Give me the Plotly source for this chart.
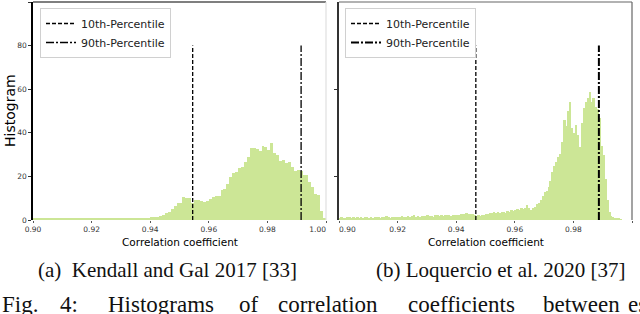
import numpy as np
import plotly.graph_objects as go

# ---------------- data ----------------
LEFT_BIN_START = 0.90
LEFT_BIN_WIDTH = 0.001
left_counts = [
    0.6, 0.7, 0.5, 0.8, 0.6, 0.5, 0.7, 0.9, 0.6, 0.5,
    0.5, 0.7, 0.6, 0.8, 0.5, 0.6, 0.7, 0.5, 0.6, 0.8,
    0.6, 0.5, 0.7, 0.6, 0.5, 0.6, 0.8, 0.6, 0.7, 0.5,
    0.6, 0.7, 0.8, 0.6, 0.7, 0.9, 0.7, 0.8, 0.9,
    1.1, 1.2, 1.3, 1.5, 2.0, 2.4, 3.0, 3.8, 5.0, 6.5,
    7.6, 8.0, 10.4, 10.0, 10.2, 7.6, 9.2, 9.0, 8.9, 8.4,
    8.6, 9.5, 10.7, 10.9, 11.2, 13.8, 14.2, 16.5, 19.9, 21.4,
    22.2, 24.0, 24.5, 26.8, 28.7, 32.9, 33.2, 32.4, 31.8, 34.0,
    33.5, 32.1, 35.5, 30.6, 30.0, 27.2, 27.5, 26.3, 26.8, 24.5,
    22.6, 22.8, 22.4, 20.6, 20.8, 17.6, 15.0, 11.9, 11.5, 4.3,
    0.8,
]
left_p10 = 0.9545
left_p90 = 0.9915

RIGHT_BIN_START = 0.90
RIGHT_BIN_WIDTH = 0.1 / 150
right_counts = [
    1.0, 1.2, 1.1, 0.9, 1.3, 1.2, 1.0, 1.4, 1.1, 1.2,
    1.0, 1.3, 0.9, 1.5, 1.2, 1.1, 1.6, 1.0, 1.3, 1.2,
    1.4, 1.1, 1.5, 1.2, 1.8, 1.3, 1.1, 1.4, 1.6, 1.2,
    1.5, 1.3, 1.7, 1.6, 1.4, 1.9, 1.5, 1.7, 2.3, 1.6,
    1.8, 1.5, 2.0, 1.7, 1.9, 2.4, 1.8, 2.0, 1.6, 2.1,
    2.2, 1.9, 2.3, 2.0, 2.1, 2.5, 2.2, 1.9, 2.4, 2.3,
    2.5, 2.2, 2.6, 2.8, 2.7, 3.0, 2.8, 2.6, 2.9, 2.4,
    2.0, 2.3, 1.9, 2.5, 2.2, 2.8, 2.6, 3.2, 3.0, 3.5,
    3.2, 3.8, 3.4, 3.9, 3.6, 3.3, 4.0, 3.7, 4.5, 4.2,
    4.8, 5.0, 4.4, 5.3, 4.9, 5.6, 6.9,
    5.5, 4.8, 5.6, 6.1, 7.2, 8.0, 9.2, 11.0, 13.0, 13.5,
    15.0, 18.0, 22.0, 25.0, 26.5, 29.0, 30.5, 36.0, 46.0, 43.0,
    50.0, 54.3, 42.0, 39.7, 43.6, 39.0, 33.6, 44.3, 51.2, 54.0,
    55.8, 58.9, 54.3, 55.8, 52.0, 51.0, 47.0, 34.0, 30.0, 19.0,
    9.0, 3.9, 2.0, 1.5, 0.8, 0.8, 0.5, 0.3, 0.0, 0.0,
    0.0, 0.0, 0.0,
]
right_p10 = 0.9467
right_p90 = 0.9887

x_ticks = [0.90, 0.92, 0.94, 0.96, 0.98, 1.00]
x_tick_labels = ["0.90", "0.92", "0.94", "0.96", "0.98", "1.00"]
y_ticks_left = [0, 20, 40, 60, 80, 100]
y_tick_labels_left = ["0", "20", "40", "60", "80", "100"]
y_ticks_right = [20, 60]
line_top = 80

legend_labels = ["10th-Percentile", "90th-Percentile"]
x_title = "Correlation coefficient"
y_title = "Histogram"
captions = ["(a)  Kendall and Gal 2017 [33]", "(b) Loquercio et al. 2020 [37]"]
fig_caption_words = ["Fig.", "4:", "Histograms", "of", "correlation",
                     "coefficients", "between", "esti"]

# ---------------- figure ----------------
W, H = 640, 314
BAR_COLOR = "rgb(204,230,150)"
FONT = "DejaVu Sans"
SERIF = "Liberation Serif"
NB = "\u00a0"

def px_x(p):
    return p / W

def px_y(p):
    return (H - p) / H

fig = go.Figure()

def add_panel(counts, start, width, p10, p90, xa, ya, legend, dd_width):
    counts = np.asarray(counts, dtype=float)
    centers = start + (np.arange(len(counts)) + 0.5) * width
    fig.add_trace(go.Bar(
        x=centers, y=counts, width=width,
        marker=dict(color=BAR_COLOR, line=dict(width=0)),
        xaxis=xa, yaxis=ya, showlegend=False, hoverinfo="skip"))
    fig.add_trace(go.Scatter(
        x=[p10, p10], y=[0, line_top], mode="lines",
        line=dict(color="black", width=1.3, dash="4px,2px"),
        name=legend_labels[0], xaxis=xa, yaxis=ya, legend=legend))
    fig.add_trace(go.Scatter(
        x=[p90, p90], y=[0, line_top], mode="lines",
        line=dict(color="black", width=dd_width, dash="8px,2px,2px,2px"),
        name=legend_labels[1], xaxis=xa, yaxis=ya, legend=legend))

add_panel(left_counts, LEFT_BIN_START, LEFT_BIN_WIDTH, left_p10, left_p90,
          "x", "y", "legend", 1.3)
add_panel(right_counts, RIGHT_BIN_START, RIGHT_BIN_WIDTH, right_p10, right_p90,
          "x2", "y2", "legend2", 2.0)

ydom = [px_y(220), px_y(2)]
dom_l = [px_x(33), px_x(326)]
dom_r = [px_x(339), px_x(632)]

# nudge the two touching labels apart, as in the reference
left_text = list(x_tick_labels)
left_text[-1] = left_text[-1] + NB * 7
right_text = list(x_tick_labels)
right_text[0] = NB * 7 + right_text[0]

tickfont = dict(family=FONT, size=7.5, color="#333")
xcommon = dict(range=[0.90, 1.00], tickvals=x_ticks,
               ticks="outside", ticklen=2, tickcolor="#555", tickfont=tickfont,
               showgrid=False, zeroline=False, showline=False, fixedrange=True,
               automargin=False)

legend_common = dict(xanchor="left", yanchor="top", bgcolor="white",
                     bordercolor="#d0d0d0", borderwidth=1,
                     font=dict(family=FONT, size=11, color="#222"),
                     itemwidth=30, tracegroupgap=0)

fig.update_layout(
    width=W, height=H,
    margin=dict(l=0, r=0, t=0, b=0, autoexpand=False),
    paper_bgcolor="white", plot_bgcolor="white",
    bargap=0, barmode="overlay",
    xaxis=dict(domain=dom_l, anchor="y", ticktext=left_text, **xcommon),
    xaxis2=dict(domain=dom_r, anchor="y2", ticktext=right_text, **xcommon),
    yaxis=dict(domain=ydom, anchor="x", range=[0, 100], tickvals=y_ticks_left,
               ticktext=y_tick_labels_left, ticks="outside", ticklen=3,
               tickcolor="#333", tickfont=tickfont, showgrid=False,
               zeroline=False, showline=True, linecolor="black", linewidth=1.5,
               fixedrange=True, automargin=False),
    yaxis2=dict(domain=ydom, anchor="x2", range=[0, 100], tickvals=y_ticks_right,
                showticklabels=False, ticks="outside", ticklen=3,
                tickcolor="#333", showgrid=False, zeroline=False,
                showline=True, linecolor="#333", linewidth=1.5, fixedrange=True,
                automargin=False),
    legend=dict(x=px_x(40), y=px_y(8), **legend_common),
    legend2=dict(x=px_x(345), y=px_y(8), **legend_common),
    showlegend=True,
)

# spines: top & right
shapes = []
for xr, yr, tc, rc in [("x domain", "y domain", "#555", "#e0e0e0"),
                       ("x2 domain", "y2 domain", "#999", "#666")]:
    shapes.append(dict(type="line", xref=xr, yref=yr, x0=0, x1=1, y0=1, y1=1,
                       line=dict(color=tc, width=1.5)))
    shapes.append(dict(type="line", xref=xr, yref=yr, x0=1, x1=1, y0=0, y1=1,
                       line=dict(color=rc, width=1.2)))
fig.update_layout(shapes=shapes)

ann = []
ann.append(dict(text=y_title, x=px_x(10), y=px_y(111), xref="paper", yref="paper",
                xanchor="center", yanchor="middle",
                textangle=-90, showarrow=False,
                font=dict(family=FONT, size=14, color="black")))
for cx in [179.5, 485.5]:
    ann.append(dict(text=x_title, x=px_x(cx), y=px_y(242), xref="paper", yref="paper",
                    xanchor="center", yanchor="middle",
                    showarrow=False, font=dict(family=FONT, size=10.5, color="black")))
for cx, cap in zip([167, 501], captions):
    ann.append(dict(text=cap, x=px_x(cx), y=px_y(270), xref="paper", yref="paper",
                    xanchor="center", yanchor="middle",
                    showarrow=False, font=dict(family=SERIF, size=21, color="#111")))
word_x = [0, 58, 106, 237, 276, 406, 541, 626]
for wx, w in zip(word_x, fig_caption_words):
    ann.append(dict(text=w, x=px_x(wx), y=px_y(290), xref="paper", yref="paper",
                    xanchor="left", yanchor="top", showarrow=False,
                    font=dict(family=SERIF, size=23, color="#111")))
fig.update_layout(annotations=ann)

fig.write_html("out.html", config={"displayModeBar": False},
               post_script="document.body.style.margin='0px';"
                           "document.body.style.overflow='hidden';")
